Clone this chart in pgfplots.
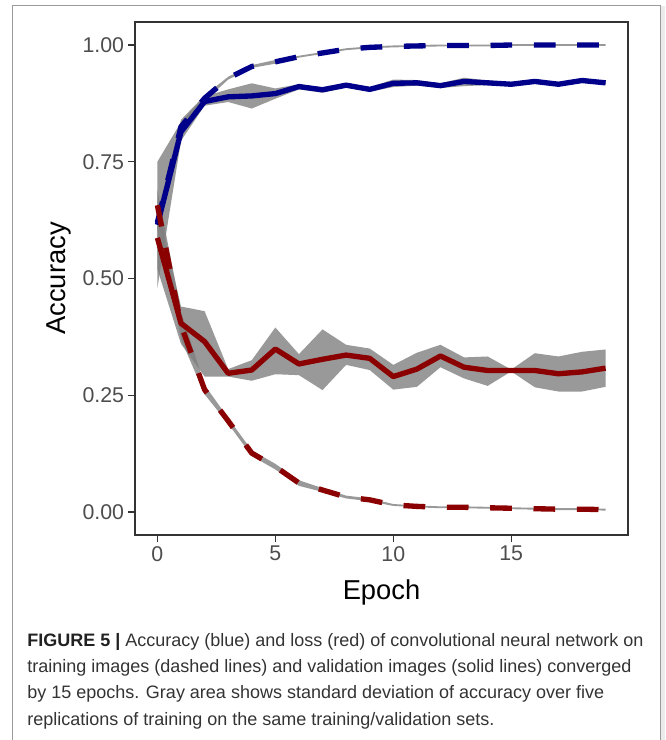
\documentclass[border=0pt]{standalone}
\usepackage{fontspec}
\setmainfont{Liberation Sans}
\usepackage{pgfplots}
\pgfplotsset{compat=1.18}
\usepackage{pgfplotstable}
\usepgfplotslibrary{fillbetween}

\definecolor{accblue}{HTML}{00008B}
\definecolor{lossred}{HTML}{8B0000}
\definecolor{sdgray}{HTML}{7F7F7F}
\definecolor{axgray}{HTML}{333333}
\definecolor{tickgray}{HTML}{4D4D4D}
\definecolor{framegray}{HTML}{9A9A9A}
\definecolor{captext}{HTML}{333333}

% Mean and mean +/- sd over five training runs.
% va = validation accuracy, ta = training accuracy,
% vl = validation loss,     tl = training loss
\pgfplotstableread{
epoch va    valo  vahi  ta    talo  tahi  vl    vllo  vlhi  tl    tllo  tlhi
0     0.615 0.480 0.750 0.620 0.600 0.640 0.587 0.520 0.660 0.657 0.630 0.690
1     0.814 0.795 0.835 0.825 0.810 0.840 0.404 0.360 0.440 0.400 0.370 0.430
2     0.879 0.870 0.890 0.886 0.880 0.892 0.365 0.290 0.430 0.262 0.252 0.272
3     0.889 0.878 0.905 0.929 0.926 0.932 0.297 0.290 0.306 0.195 0.189 0.201
4     0.891 0.864 0.918 0.954 0.951 0.957 0.304 0.281 0.325 0.126 0.120 0.132
5     0.896 0.885 0.907 0.964 0.960 0.968 0.349 0.295 0.395 0.097 0.091 0.103
6     0.911 0.905 0.916 0.975 0.973 0.977 0.317 0.293 0.338 0.062 0.056 0.068
7     0.904 0.898 0.910 0.983 0.981 0.985 0.327 0.261 0.391 0.047 0.043 0.051
8     0.914 0.909 0.919 0.991 0.989 0.993 0.336 0.315 0.358 0.032 0.029 0.035
9     0.905 0.900 0.910 0.995 0.993 0.997 0.329 0.304 0.350 0.026 0.023 0.029
10    0.918 0.910 0.926 0.997 0.995 0.999 0.290 0.262 0.315 0.015 0.013 0.017
11    0.919 0.913 0.925 0.998 0.996 1.000 0.306 0.268 0.341 0.012 0.010 0.014
12    0.913 0.908 0.918 0.999 0.997 1.001 0.334 0.310 0.358 0.010 0.008 0.012
13    0.922 0.912 0.930 0.999 0.997 1.001 0.310 0.286 0.331 0.010 0.008 0.012
14    0.919 0.914 0.924 0.999 0.997 1.001 0.303 0.270 0.333 0.009 0.007 0.011
15    0.916 0.912 0.920 1.000 0.998 1.002 0.303 0.301 0.305 0.008 0.006 0.010
16    0.922 0.917 0.927 1.000 0.998 1.002 0.303 0.267 0.340 0.007 0.005 0.009
17    0.916 0.912 0.920 1.000 0.998 1.002 0.296 0.258 0.333 0.006 0.004 0.008
18    0.924 0.920 0.928 1.000 0.998 1.002 0.300 0.258 0.343 0.006 0.004 0.008
19    0.919 0.915 0.923 1.000 0.998 1.002 0.308 0.268 0.348 0.005 0.003 0.007
}\runs

\begin{document}
\begin{tikzpicture}
% figure frame
\fill[black!8] (495pt,0) rectangle (498.75pt,550.5pt);
\draw[framegray, line width=0.75pt] (9pt,0) -- (9pt,550.5pt) -- (495pt,550.5pt) -- (495pt,0);

\begin{axis}[
  at={(101.25pt,153.75pt)}, anchor=south west,
  scale only axis, width=369.75pt, height=384.75pt,
  xmin=-0.95, xmax=19.95, ymin=-0.0493, ymax=1.0493,
  xtick={0,5,10,15},
  ytick={0,0.25,0.5,0.75,1},
  yticklabels={0.00,0.25,0.50,0.75,1.00},
  xtick pos=bottom, ytick pos=left,
  tick align=outside, major tick length=5.25pt,
  tick style={axgray, line width=1.1pt},
  axis line style={axgray, line width=1.1pt},
  ticklabel style={font=\fontsize{16}{19}\selectfont, text=tickgray},
  yticklabel style={xshift=0.6pt},
  xticklabel style={yshift=0.4pt},
  /pgf/number format/assume math mode=true,
  xlabel={Epoch}, ylabel={Accuracy},
  label style={font=\fontsize{20.5}{24}\selectfont, text=black},
  xlabel style={at={(axis description cs:0.5,-0.1248)}, anchor=base},
  ylabel style={at={(axis description cs:-0.14,0.5)}, anchor=base},
  line join=round, line cap=butt,
]
% standard deviation bands
\addplot[name path=vahi, draw=none, forget plot] table[x=epoch, y=vahi]{\runs};
\addplot[name path=valo, draw=none, forget plot] table[x=epoch, y=valo]{\runs};
\addplot[fill=sdgray, fill opacity=0.8, draw=none] fill between[of=vahi and valo];
\addplot[name path=tahi, draw=none, forget plot] table[x=epoch, y=tahi]{\runs};
\addplot[name path=talo, draw=none, forget plot] table[x=epoch, y=talo]{\runs};
\addplot[fill=sdgray, fill opacity=0.8, draw=none] fill between[of=tahi and talo];
\addplot[name path=vlhi, draw=none, forget plot] table[x=epoch, y=vlhi]{\runs};
\addplot[name path=vllo, draw=none, forget plot] table[x=epoch, y=vllo]{\runs};
\addplot[fill=sdgray, fill opacity=0.8, draw=none] fill between[of=vlhi and vllo];
\addplot[name path=tlhi, draw=none, forget plot] table[x=epoch, y=tlhi]{\runs};
\addplot[name path=tllo, draw=none, forget plot] table[x=epoch, y=tllo]{\runs};
\addplot[fill=sdgray, fill opacity=0.8, draw=none] fill between[of=tlhi and tllo];

% mean curves: dashed = training, solid = validation
\addplot[accblue, line width=4pt, dash pattern=on 16.25pt off 16.25pt] table[x=epoch, y=ta]{\runs};
\addplot[accblue, line width=4pt] table[x=epoch, y=va]{\runs};
\addplot[lossred, line width=4pt, dash pattern=on 16.25pt off 16.25pt] table[x=epoch, y=tl]{\runs};
\addplot[lossred, line width=4pt] table[x=epoch, y=vl]{\runs};
\end{axis}

% caption
\begin{scope}[every node/.style={anchor=base west, inner sep=0pt, text=captext,
    font=\fontsize{13.5}{16}\selectfont}]
\node at (20.25pt,69.75pt) {{\color{black!87}\bfseries FIGURE 5 |} Accuracy (blue) and loss (red) of convolutional neural network on};
\node at (20.25pt,50.25pt) {training images (dashed lines) and validation images (solid lines) converged};
\node at (20.25pt,30.75pt) {by 15 epochs. Gray area shows standard deviation of accuracy over five};
\node at (20.25pt,11.25pt) {replications of training on the same training/validation sets.};
\end{scope}

\pgfresetboundingbox
\path[use as bounding box] (0,0) rectangle (498.75pt,555pt);
\end{tikzpicture}
\end{document}
